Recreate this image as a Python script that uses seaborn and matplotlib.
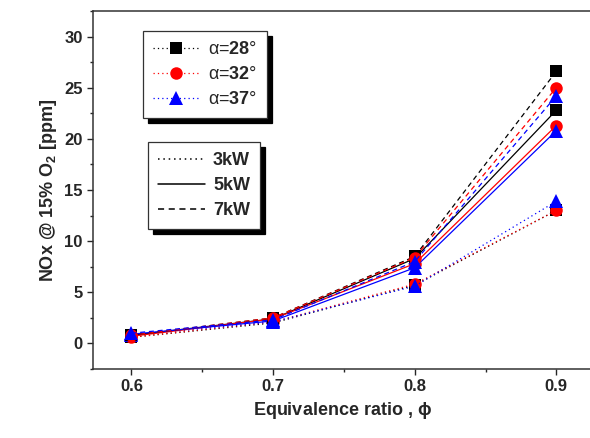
import numpy as np
import pandas as pd
import matplotlib
matplotlib.use("Agg")
import matplotlib.pyplot as plt
from matplotlib.lines import Line2D
from matplotlib.ticker import MultipleLocator
import seaborn as sns

# equivalence ratio values
phi = [0.6, 0.7, 0.8, 0.9]

# swirl angles and burner powers
angles = ["28", "32", "37"]
powers = ["3kW", "5kW", "7kW"]

# NOx readings [ppm], one list per (power, angle)
nox_3kw_28 = [0.6, 2.0, 5.7, 13.0]
nox_3kw_32 = [0.6, 2.1, 5.8, 13.0]
nox_3kw_37 = [0.8, 2.1, 5.6, 13.9]
nox_5kw_28 = [0.8, 2.4, 8.3, 22.8]
nox_5kw_32 = [0.7, 2.4, 7.8, 21.3]
nox_5kw_37 = [0.9, 2.2, 7.4, 20.8]
nox_7kw_28 = [0.8, 2.5, 8.5, 26.6]
nox_7kw_32 = [0.8, 2.5, 8.4, 25.0]
nox_7kw_37 = [1.0, 2.3, 8.0, 24.2]

series = {
    ("3kW", "28"): nox_3kw_28, ("3kW", "32"): nox_3kw_32, ("3kW", "37"): nox_3kw_37,
    ("5kW", "28"): nox_5kw_28, ("5kW", "32"): nox_5kw_32, ("5kW", "37"): nox_5kw_37,
    ("7kW", "28"): nox_7kw_28, ("7kW", "32"): nox_7kw_32, ("7kW", "37"): nox_7kw_37,
}

rows = []
for (p, a), vals in series.items():
    for x, v in zip(phi, vals):
        rows.append({"phi": x, "nox": v, "power": p, "angle": a})
df = pd.DataFrame(rows)

colors = {"28": "black", "32": "red", "37": "blue"}
markers = {"28": "s", "32": "o", "37": "^"}
msizes = {"28": 8, "32": 9, "37": 9.5}
styles = {"3kW": (0, (1, 2.5)), "5kW": "-", "7kW": (0, (4, 3))}

sns.set_style("ticks")
plt.rcParams["font.family"] = ["Liberation Sans", "DejaVu Sans"]
plt.rcParams["font.weight"] = "bold"
plt.rcParams["mathtext.fontset"] = "custom"
plt.rcParams["mathtext.rm"] = "Liberation Sans"
plt.rcParams["mathtext.bf"] = "Liberation Sans:bold"

fig = plt.figure(figsize=(5.9, 4.38), dpi=100)
ax = fig.add_axes([0.158, 0.1575, 0.845, 0.8175])

for p in powers:
    for a in angles:
        sub = df[(df.power == p) & (df.angle == a)]
        sns.lineplot(data=sub, x="phi", y="nox", ax=ax, color=colors[a],
                     linestyle=styles[p], marker=markers[a], markersize=msizes[a],
                     markeredgewidth=0, linewidth=0.9, legend=False)

ax.set_xlim(0.573, 0.925)
ax.set_ylim(-2.5, 32.5)
ax.xaxis.set_major_locator(MultipleLocator(0.1))
ax.xaxis.set_minor_locator(MultipleLocator(0.05))
ax.yaxis.set_major_locator(MultipleLocator(5))
ax.yaxis.set_minor_locator(MultipleLocator(2.5))
ax.tick_params(which="major", direction="out", length=4, width=1, labelsize=12)
ax.tick_params(which="minor", direction="out", length=2.5, width=1)
for s in ax.spines.values():
    s.set_linewidth(1.1)
    s.set_color("#333333")

ax.set_xlabel("Equivalence ratio , $\\mathrm{ϕ}$", fontsize=13, fontweight="bold")
ax.set_ylabel("NOx @ 15% O$_\\mathbf{2}$ [ppm]", fontsize=13, fontweight="bold")

shadow = {"ox": 3.5, "oy": -3.5, "color": "black", "alpha": 1}

h1 = [Line2D([], [], color=colors[a], linestyle=(0, (1, 2.5)), marker=markers[a],
             markersize=msizes[a], markeredgewidth=0, linewidth=0.9) for a in angles]
l1 = ["α=$\\mathbf{" + a + "}$°" for a in angles]
leg1 = ax.legend(h1, l1, loc="upper left", bbox_to_anchor=(0.1, 0.944),
                 frameon=True, fancybox=False, shadow=shadow,
                 prop={"weight": "normal", "size": 13},
                 handlelength=2.6, labelspacing=0.45, borderpad=0.55,
                 handletextpad=0.45, borderaxespad=0)
leg1.get_frame().set_edgecolor("#333333")
leg1.get_frame().set_linewidth(0.9)
ax.add_artist(leg1)

h2 = [Line2D([], [], color="black", linestyle=styles[p], linewidth=1.1) for p in powers]
leg2 = ax.legend(h2, powers, loc="upper left", bbox_to_anchor=(0.11, 0.634),
                 frameon=True, fancybox=False, shadow=shadow,
                 prop={"weight": "bold", "size": 13},
                 handlelength=2.6, labelspacing=0.45, borderpad=0.55,
                 handletextpad=0.45, borderaxespad=0)
leg2.get_frame().set_edgecolor("#333333")
leg2.get_frame().set_linewidth(0.9)

fig.savefig("out.png", dpi=100)
